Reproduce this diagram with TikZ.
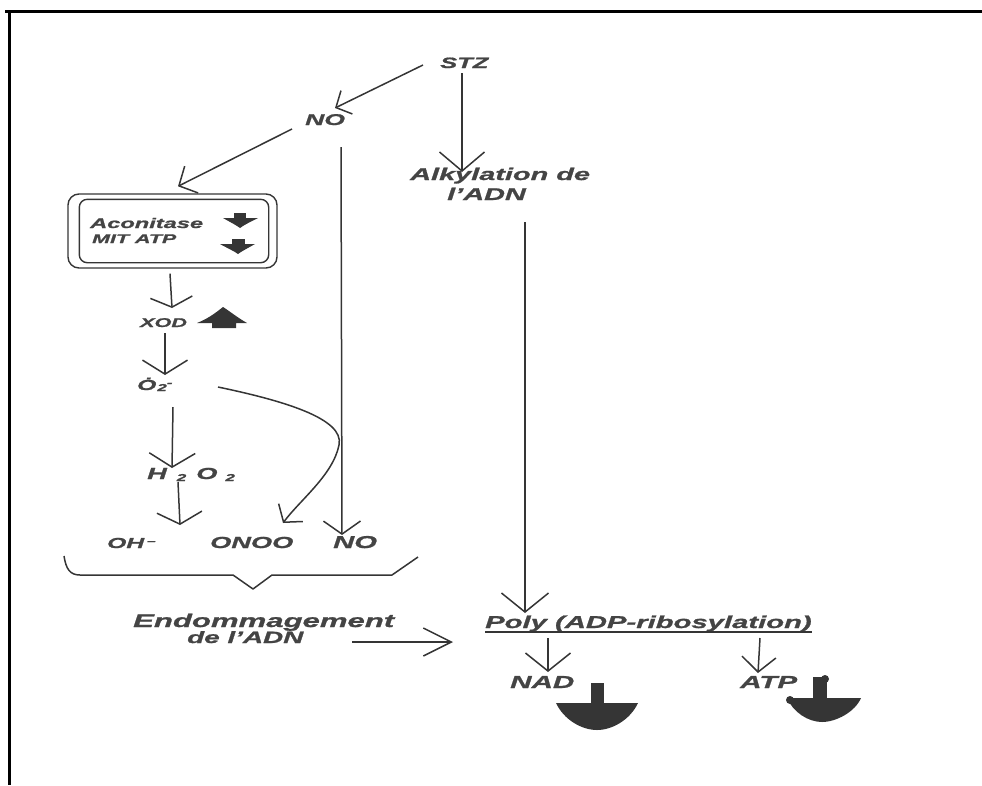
\documentclass[tikz,border=0pt]{standalone}
\usepackage{fontspec}
\setmainfont{Liberation Sans}[FakeStretch=1.7,FakeBold=1.2]
\usetikzlibrary{arrows.meta,calc}
\definecolor{ink}{HTML}{353535}
\definecolor{txt}{HTML}{444444}
\begin{document}
\begin{tikzpicture}[x=1pt,y=-1pt,
  lbl/.style={text=txt,inner sep=0pt,anchor=base west,font=\fontsize{#1}{#1}\selectfont\bfseries\itshape},
  conn/.style={draw=ink,line width=1.5pt},
  vee/.style 2 args={-{Straight Barb[length=#1pt,width=#2pt]}},
  blob/.style={fill=ink,draw=none},
  boxline/.style={draw=ink,line width=1.4pt,rounded corners=9pt}]
\useasboundingbox (0,0) rectangle (982,785);
% frame
\draw[line width=3pt,black] (5,11) -- (982,11);
\draw[line width=3pt,black] (9,11) -- (9,785);

% labels
\node[lbl=15] (stz) at (440,68) {STZ};
\node[lbl=15.6] (no1) at (305,125) {NO};
\node[lbl=17] (alk1) at (410,180) {Alkylation de};
\node[lbl=17] (alk2) at (447,200) {l'ADN};
\node[boxline,minimum width=209pt,minimum height=74pt,inner sep=0pt,rounded corners=11pt] (box) at (172.5,231) {};
\draw[boxline,rounded corners=8pt] ($(box.north west)+(12,6)$) rectangle ($(box.south east)+(-9,-6)$);
\node[lbl=13.9] (acon) at (90,228) {Aconitase};
\node[lbl=12.6] (mit) at (92,243) {MIT ATP};
\node[lbl=12.7] (xod) at (140,327) {XOD};
\node[lbl=14.5] (o2) at (137,390) {\.O\kern1pt{\fontsize{10}{10}\selectfont\raisebox{-1pt}{2}\raisebox{4pt}{-}}};
\node[lbl=16] (h2o2) at (147,479) {H\kern10pt\raisebox{-2pt}{\fontsize{10}{10}\selectfont 2}\kern10pt O\kern8pt\raisebox{-2pt}{\fontsize{10}{10}\selectfont 2}};
\node[lbl=14.5] (oh) at (107,548) {OH\kern3pt\raisebox{4pt}{\fontsize{9}{9}\selectfont –}};
\node[lbl=16] (onoo) at (210,548) {ONOO};
\node[lbl=17.2] (no2) at (333,548) {NO};
\node[lbl=18.3] (endo) at (133,627) {Endommagement};
\node[lbl=16.4] (dela) at (187,643) {de l'ADN};
\node[lbl=17.2] (poly) at (485,628) {Poly (ADP-ribosylation)};
\node[lbl=17.4] (nad) at (510,688) {NAD};
\node[lbl=17.4] (atp) at (740,688) {ATP};
\draw[ink,line width=1.3pt] ($(poly.base west)+(0,4)$) -- ($(poly.base east)+(0,4)$);

% connectors
\draw[conn,vee={12}{26}] ($(stz.base west)+(-17,-3)$) -- ($(no1.base west)+(30,-17)$);
\draw[conn,vee={19}{45}] ($(stz.base west)+(22,5)$) -- ($(alk1.base west)+(52,-8)$);
\draw[conn,vee={14}{30}] ($(no1.base west)+(-13,4)$) -- ($(box.north)+(5.5,-7)$);
\draw[conn,vee={13}{37}] ($(no1.base west)+(36,22)$) -- ($(no2.base west)+(9,-13)$);
\draw[conn,vee={10}{42}] ($(box.south)+(-2.5,5)$) -- ($(xod.base west)+(32,-19)$);
\draw[conn,vee={14}{45}] ($(xod.base west)+(25,6)$) -- ($(o2.base west)+(28,-15)$);
\draw[conn,vee={14}{46}] ($(o2.base west)+(36,17)$) -- ($(h2o2.base west)+(25,-11)$);
\draw[conn,vee={12}{45}] ($(h2o2.base west)+(31,3)$) -- ($(oh.base west)+(73,-23)$);
\draw[conn,vee={12}{30}] ($(o2.base west)+(81,-3)$) .. controls (280,400) and (345,418) .. (339,445) .. controls (333,475) and (300,500) .. ($(onoo.base west)+(73,-25)$);
\draw[conn,vee={28}{28}] ($(endo.base west)+(219,15)$) -- ($(poly.base west)+(-32,14)$);
\draw[conn,vee={19}{47}] ($(alk2.base west)+(78,22)$) -- ($(poly.base west)+(40,-15)$);
\draw[conn,vee={18}{45}] ($(poly.base west)+(63,10)$) -- ($(nad.base west)+(38,-16)$);
\draw[conn,vee={15}{34}] ($(poly.base west)+(275,10)$) -- ($(atp.base west)+(18,-15)$);

% brace
\draw[ink,line width=1.5pt,line join=round] (64,556) .. controls (66,569) and (70,575) .. (80,575) -- (233,575) -- (253,589) -- (272,575) -- (392,575) -- (418,557);

% solid arrows
\fill[blob] (234,213) rectangle (246,219);
\fill[blob] (223,218) -- (258,218) .. controls (250,222) and (244,225) .. (240,228) .. controls (236,225) and (230,222) .. (223,218) -- cycle;
\fill[blob] (232,239) rectangle (245,245);
\fill[blob] (220,244) -- (255,244) .. controls (248,248) and (242,251) .. (238,254) .. controls (234,251) and (227,248) .. (220,244) -- cycle;
\fill[blob] (197,323) .. controls (210,318) and (219,310) .. (223,307) .. controls (228,310) and (238,318) .. (247,323) -- (236,323) -- (236,328) -- (212,328) -- (212,323) -- cycle;
\fill[blob] (591,683) rectangle (604,705);
\fill[blob] (556,703) -- (638,703) .. controls (630,720) and (612,730) .. (597,730) .. controls (582,730) and (564,720) .. (556,703) -- cycle;
\fill[blob] (813,677) rectangle (827,700);
\fill[blob] (825,679) circle (4);
\fill[blob] (787,698) -- (861,698) .. controls (855,712) and (836,722) .. (822,722) .. controls (808,722) and (793,712) .. (787,698) -- cycle;
\fill[blob] (790,700) circle (4);
\end{tikzpicture}
\end{document}
